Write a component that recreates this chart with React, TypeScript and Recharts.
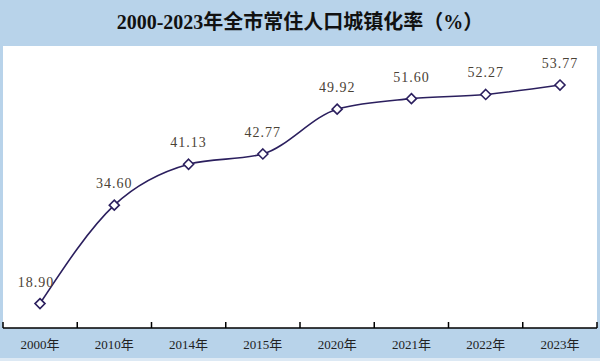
import React from "react";
import { LineChart, Line, XAxis, YAxis, CartesianGrid, LabelList } from "recharts";

// 年份与城镇化率
const years = ["2000年", "2010年", "2014年", "2015年", "2020年", "2021年", "2022年", "2023年"];
const rates = [18.9, 34.6, 41.13, 42.77, 49.92, 51.6, 52.27, 53.77];

const data = years.map((year, i) => ({ year, rate: rates[i], pos: i + 0.5 }));

const BAND = "#b8d3ea";
const LINE = "#2b1f5e";
const SERIF = "'Liberation Serif', 'DejaVu Serif', 'Noto Sans CJK SC', serif";

const Diamond = (props: any) => {
    const { cx, cy } = props;
    if (cx == null || cy == null) return null;
    const r = 5;
    return (
        <polygon
            points={`${cx},${cy - r} ${cx + r},${cy} ${cx},${cy + r} ${cx - r},${cy}`}
            fill="#fff"
            stroke={LINE}
            strokeWidth={1.6}
        />
    );
};

// first label sits a little to the left of its point, like the original
const renderLabel = (props: any) => {
    const { x, y, value, index } = props;
    const dx = index === 0 ? -4 : 0;
    return (
        <text
            x={x + dx}
            y={y - 17}
            textAnchor="middle"
            fill="#4a4236"
            fontSize={14}
            fontFamily={SERIF}
            letterSpacing={1}
        >
            {Number(value).toFixed(2)}
        </text>
    );
};

const App: React.FC = () => {
    return (
        <div style={{ position: "fixed", left: 0, top: 0, width: 600, height: 361, background: BAND }}>
            <div
                style={{
                    position: "absolute",
                    left: 0,
                    top: 0,
                    width: 600,
                    height: 46,
                    lineHeight: "44px",
                    textAlign: "center",
                    fontFamily: SERIF,
                    fontWeight: 700,
                    fontSize: 20,
                    color: "#111",
                }}
            >
                2000-2023年全市常住人口城镇化率（%）
            </div>
            <div style={{ position: "absolute", left: 0, top: 358, width: 600, height: 3, background: "#dde9f4" }} />
            <LineChart width={600} height={361} data={data} margin={{ top: 46, right: 3, left: 3, bottom: 3 }}>
                <CartesianGrid fill="#ffffff" horizontal={false} vertical={false} />
                <YAxis hide domain={[15, 60]} />
                <XAxis
                    dataKey="year"
                    height={30}
                    padding={{ left: 37, right: 37 }}
                    axisLine={false}
                    tickLine={false}
                    tickSize={0}
                    tickMargin={12}
                    interval={0}
                    tick={{ fill: "#222", fontSize: 13, fontFamily: SERIF }}
                />
                <XAxis
                    xAxisId="edges"
                    type="number"
                    dataKey="pos"
                    domain={[0, 8]}
                    ticks={[0, 1, 2, 3, 4, 5, 6, 7, 8]}
                    allowDataOverflow
                    mirror
                    tickSize={6}
                    tickFormatter={() => ""}
                    axisLine={{ stroke: "#000", strokeWidth: 1.5 }}
                    tickLine={{ stroke: "#000", strokeWidth: 1.5 }}
                />
                <Line
                    type="monotone"
                    dataKey="rate"
                    stroke={LINE}
                    strokeWidth={1.6}
                    dot={<Diamond />}
                    activeDot={false}
                    isAnimationActive={false}
                >
                    <LabelList dataKey="rate" content={renderLabel} />
                </Line>
            </LineChart>
        </div>
    );
};

export default App;
